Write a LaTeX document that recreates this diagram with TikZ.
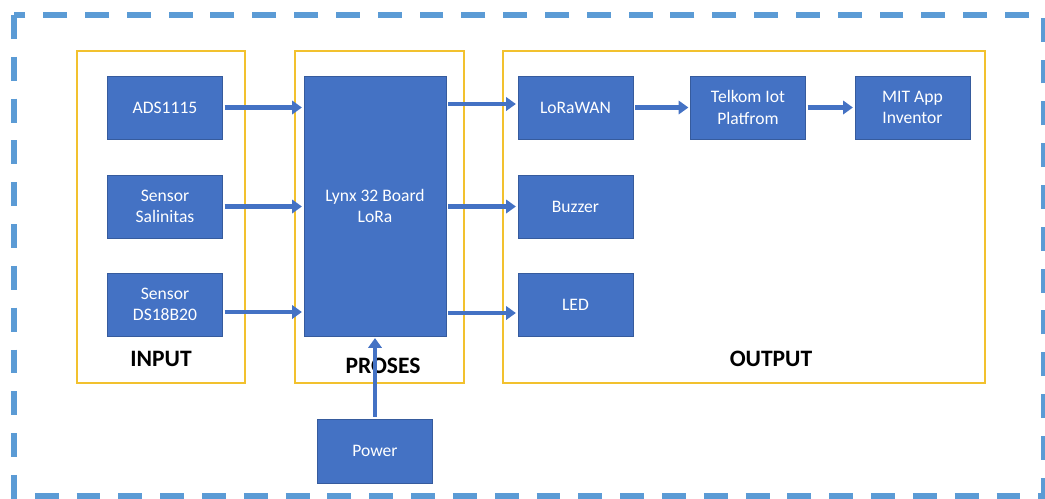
\documentclass[tikz,border=0pt]{standalone}
\usepackage{fontspec}
\setmainfont{Carlito}
\usetikzlibrary{arrows.meta}
\definecolor{boxblue}{HTML}{4472C4}
\definecolor{frameyellow}{HTML}{F2C12E}
\definecolor{dashblue}{HTML}{5B9BD5}
\begin{document}
\begin{tikzpicture}[x=0.02cm, y=-0.02cm,
    block/.style={draw=boxblue!80!black, line width=0.4pt, fill=boxblue, text=white,
        minimum width=2.3cm, minimum height=1.26cm, align=center, inner sep=0pt,
        font=\fontsize{10}{12.3}\selectfont},
    frame/.style={draw=frameyellow, line width=1.4pt},
    link/.style={draw=boxblue, line width=2.4pt, -{Triangle[length=5.5pt,width=7.5pt]},
        shorten <=1pt, shorten >=1pt},
    title/.style={font=\fontsize{13.4}{15}\selectfont\bfseries}]
    \useasboundingbox (0,0) rectangle (1045,498);

    %outer border
    \draw[dashblue, line width=3.4pt, dash pattern=on 13.6pt off 10.2pt] (14,15) rectangle (1044,496);

    %frames
    \draw[frame] (77,51) rectangle (245,383);
    \draw[frame] (295,51) rectangle (464,383);
    \draw[frame] (503,51) rectangle (985,383);
    \node[title] (input) at (161,359) {INPUT};
    \node[title] (proses) at (383,366) {PROSES};
    \node[title] (output) at (771,359) {OUTPUT};

    %input
    \node[block] (ads) at (165,107.5) {ADS1115};
    \node[block] (salinitas) at (165,206.5) {Sensor\\Salinitas};
    \node[block] (ds) at (165,304.5) {Sensor\\DS18B20};

    %proses
    \node[block, minimum width=2.84cm, minimum height=5.2cm] (lynx) at (375,206) {Lynx 32 Board\\LoRa};
    \node[block, minimum height=1.28cm] (power) at (375,451) {Power};

    %output
    \node[block] (lorawan) at (575.5,107.5) {LoRaWAN};
    \node[block] (telkom) at (748,107.5) {Telkom Iot\\Platfrom};
    \node[block] (mit) at (912.5,107.5) {MIT App\\Inventor};
    \node[block] (buzzer) at (575.5,206.5) {Buzzer};
    \node[block] (led) at (575.5,304.5) {LED};

    %arrows
    \draw[link] (ads.east) -- (ads.east -| lynx.west);
    \draw[link] (salinitas.east) -- (salinitas.east -| lynx.west);
    \draw[link] ([yshift=-0.15cm]ds.east) -- ([yshift=-0.15cm]ds.east -| lynx.west);
    \draw[link] ([yshift=0.07cm]lorawan.west -| lynx.east) -- ([yshift=0.07cm]lorawan.west);
    \draw[link] (buzzer.west -| lynx.east) -- (buzzer.west);
    \draw[link] ([yshift=-0.17cm]led.west -| lynx.east) -- ([yshift=-0.17cm]led.west);
    \draw[link] (lorawan) -- (telkom);
    \draw[link] (telkom) -- (mit);
    \draw[link] (power) -- (lynx);
\end{tikzpicture}
\end{document}
